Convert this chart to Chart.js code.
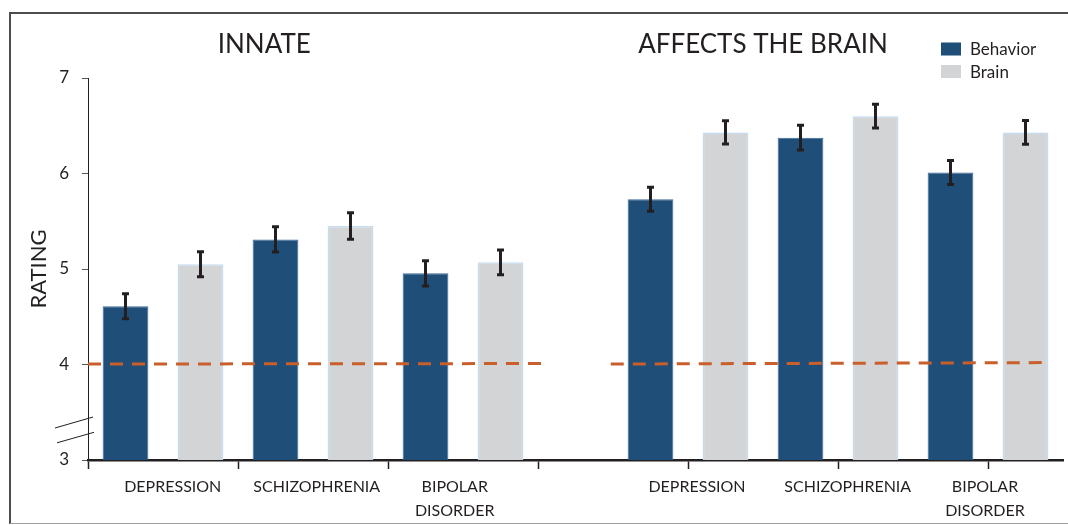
<!DOCTYPE html>
<html>
<head>
<meta charset="utf-8">
<title>Innate / Affects the brain</title>
<script src="https://cdn.jsdelivr.net/npm/chart.js@4.4.1/dist/chart.umd.min.js"></script>
<style>
    html, body { margin: 0; padding: 0; background: #ffffff; }
    #wrap { position: relative; width: 1068px; height: 525px; overflow: hidden; }
    #frame {
        position: absolute; left: 9px; top: 12px; width: 1080px; height: 509px;
        border: 2px solid #4d4d4d; border-bottom: 1.5px solid #a0a0a0;
        pointer-events: none;
    }
</style>
</head>
<body>
<div id="wrap">
    <canvas id="chart-rating" width="1068" height="525"></canvas>
    <div id="frame"></div>
</div>
<script>
// Grupos y paneles
const panelTitles = ['INNATE', 'AFFECTS THE BRAIN'];
const disorders = ['DEPRESSION', 'SCHIZOPHRENIA', ['BIPOLAR', 'DISORDER']];
const seriesNames = ['Behavior', 'Brain'];

// Valores (escala 3-7)
const innateBehavior = [4.61, 5.31, 4.955];
const innateBrain = [5.05, 5.45, 5.07];
const affectsBehavior = [5.73, 6.375, 6.01];
const affectsBrain = [6.43, 6.60, 6.43];

// Error (+/-)
const innateBehaviorErr = [0.13, 0.133, 0.132];
const innateBrainErr = [0.13, 0.138, 0.13];
const affectsBehaviorErr = [0.126, 0.13, 0.126];
const affectsBrainErr = [0.122, 0.124, 0.124];

// Linea de referencia (punto medio de la escala)
const refLeftX = [0, 6.05];
const refLeftY = [4.005, 4.01];
const refRightX = [6.97, 12.83];
const refRightY = [4.005, 4.02];

// Ticks del eje x (unidades de casilla)
const xTickMarks = [0, 2, 4, 6, 8, 10, 12];
const xLabelPos = [1.13, 3.05, 4.89, 8.12, 10.13, 11.96];
const yTicks = [3, 4, 5, 6, 7];

// Colores
const colorBehavior = '#1f4e79';
const colorBrain = '#d3d4d6';
const colorRef = '#c95f2b';
const textColor = '#231f20';

// 13 casillas: 6 barras por panel + hueco
const nSlots = 13;
const slotLabels = [];
const behaviorSlots = new Array(nSlots).fill(null);
const brainSlots = new Array(nSlots).fill(null);
const behaviorErrSlots = new Array(nSlots).fill(null);
const brainErrSlots = new Array(nSlots).fill(null);
for (let i = 0; i < nSlots; i++) slotLabels.push('s' + i);

[[innateBehavior, innateBrain, innateBehaviorErr, innateBrainErr],
 [affectsBehavior, affectsBrain, affectsBehaviorErr, affectsBrainErr]].forEach((p, pi) => {
    p[0].forEach((v, g) => {
        const s = pi * 7 + g * 2;
        behaviorSlots[s] = v;
        brainSlots[s + 1] = p[1][g];
        behaviorErrSlots[s] = p[2][g];
        brainErrSlots[s + 1] = p[3][g];
    });
});

const labelAt = {};
xLabelPos.forEach((v, i) => { labelAt[v] = disorders[i % 3]; });
const xAllTicks = xTickMarks.concat(xLabelPos).sort((a, b) => a - b);

// Plugin: barras de error, titulos, leyenda y corte del eje
const extrasPlugin = {
    id: 'extras',
    afterDatasetsDraw(chart) {
        const ctx = chart.ctx;
        const y = chart.scales.y;
        const errs = [behaviorErrSlots, brainErrSlots];
        ctx.save();
        ctx.strokeStyle = '#231f20';
        ctx.lineWidth = 3;
        [0, 1].forEach(di => {
            const meta = chart.getDatasetMeta(di);
            const vals = chart.data.datasets[di].data;
            meta.data.forEach((bar, i) => {
                if (vals[i] == null) return;
                const e = errs[di][i];
                const x = bar.x;
                const y1 = y.getPixelForValue(vals[i] + e);
                const y2 = y.getPixelForValue(vals[i] - e);
                ctx.beginPath();
                ctx.moveTo(x, y1); ctx.lineTo(x, y2);
                ctx.moveTo(x - 3.5, y1); ctx.lineTo(x + 3.5, y1);
                ctx.moveTo(x - 3.5, y2); ctx.lineTo(x + 3.5, y2);
                ctx.stroke();
            });
        });
        ctx.restore();
    },
    afterDraw(chart) {
        const ctx = chart.ctx;
        const xl = chart.scales.xl;
        const y = chart.scales.y;
        const area = chart.chartArea;
        ctx.save();
        // titulos de panel
        ctx.fillStyle = textColor;
        ctx.font = '26px Lato';
        ctx.textAlign = 'center';
        ctx.textBaseline = 'middle';
        ctx.fillText(panelTitles[0], xl.getPixelForValue(2.35), area.top - 33);
        ctx.fillText(panelTitles[1], xl.getPixelForValue(9.0), area.top - 33);

        // leyenda
        const lx = 941, ly = [49, 71.5];
        [colorBehavior, colorBrain].forEach((c, i) => {
            ctx.fillStyle = c;
            ctx.fillRect(lx, ly[i] - 6.5, 20, 13);
            ctx.fillStyle = textColor;
            ctx.font = '17px Lato';
            ctx.textAlign = 'left';
            ctx.fillText(seriesNames[i], lx + 29, ly[i] + 1);
        });

        // marcas de corte en el eje y
        ctx.strokeStyle = '#231f20';
        ctx.lineWidth = 1;
        const left = area.left;
        ctx.beginPath();
        ctx.moveTo(left - 33, y.getPixelForValue(3.335));
        ctx.lineTo(left + 5, y.getPixelForValue(3.45));
        ctx.moveTo(left - 31, y.getPixelForValue(3.18));
        ctx.lineTo(left + 6, y.getPixelForValue(3.29));
        ctx.stroke();
        ctx.restore();
    }
};

function refData(xs, ys) {
    return xs.map((x, i) => ({ x: x, y: ys[i] }));
}

Chart.defaults.font.family = 'Lato';
Chart.defaults.color = textColor;

const ctx = document.getElementById('chart-rating').getContext('2d');
const chart = new Chart(ctx, {
    type: 'bar',
    data: {
        labels: slotLabels,
        datasets: [
            {
                label: seriesNames[0],
                data: behaviorSlots,
                backgroundColor: colorBehavior,
                borderColor: '#3a6a98',
                borderWidth: 1,
                grouped: false,
                barPercentage: 0.61,
                categoryPercentage: 1,
                order: 1
            },
            {
                label: seriesNames[1],
                data: brainSlots,
                backgroundColor: colorBrain,
                borderColor: '#c4dcf0',
                borderWidth: 1.5,
                grouped: false,
                barPercentage: 0.61,
                categoryPercentage: 1,
                order: 1
            },
            {
                type: 'line',
                label: 'ref1',
                data: refData(refLeftX, refLeftY),
                xAxisID: 'xl',
                borderColor: colorRef,
                borderWidth: 3,
                borderDash: [13, 9],
                pointRadius: 0,
                fill: false,
                order: 0
            },
            {
                type: 'line',
                label: 'ref2',
                data: refData(refRightX, refRightY),
                xAxisID: 'xl',
                borderColor: colorRef,
                borderWidth: 3,
                borderDash: [13, 9],
                pointRadius: 0,
                fill: false,
                order: 0
            }
        ]
    },
    options: {
        responsive: false,
        animation: false,
        layout: { padding: { top: 78, left: 20, right: 5, bottom: 0 } },
        plugins: {
            legend: { display: false },
            tooltip: { enabled: false },
            title: { display: false }
        },
        scales: {
            x: {
                display: false,
                offset: true
            },
            xl: {
                type: 'linear',
                position: 'bottom',
                min: 0,
                max: 13,
                offset: false,
                afterBuildTicks: (scale) => {
                    scale.ticks = xAllTicks.map(v => ({ value: v }));
                },
                afterFit: (scale) => { scale.height = 65; },
                grid: {
                    offset: false,
                    drawOnChartArea: false,
                    drawTicks: true,
                    tickLength: 9,
                    tickWidth: 1.5,
                    tickColor: (c) => (c.tick && labelAt[c.tick.value] !== undefined) ? 'rgba(0,0,0,0)' : '#231f20'
                },
                border: { display: true, color: '#231f20', width: 2.5 },
                ticks: {
                    autoSkip: false,
                    maxRotation: 0,
                    minRotation: 0,
                    padding: 6,
                    font: { size: 16, lineHeight: 1.5 },
                    color: textColor,
                    callback: (value) => labelAt[value] !== undefined ? labelAt[value] : ''
                }
            },
            y: {
                min: 3,
                max: 7,
                afterBuildTicks: (scale) => {
                    scale.ticks = yTicks.map(v => ({ value: v }));
                },
                afterFit: (scale) => { scale.width = 68; },
                grid: {
                    drawOnChartArea: false,
                    drawTicks: true,
                    tickLength: 6,
                    tickColor: '#555555'
                },
                border: { display: true, color: '#231f20', width: 1 },
                ticks: {
                    padding: 13,
                    font: { size: 17 },
                    color: textColor
                },
                title: {
                    display: true,
                    text: 'RATING',
                    font: { size: 22 },
                    color: textColor,
                    padding: { top: 6, bottom: 0 }
                }
            }
        }
    },
    plugins: [extrasPlugin]
});
</script>
</body>
</html>
